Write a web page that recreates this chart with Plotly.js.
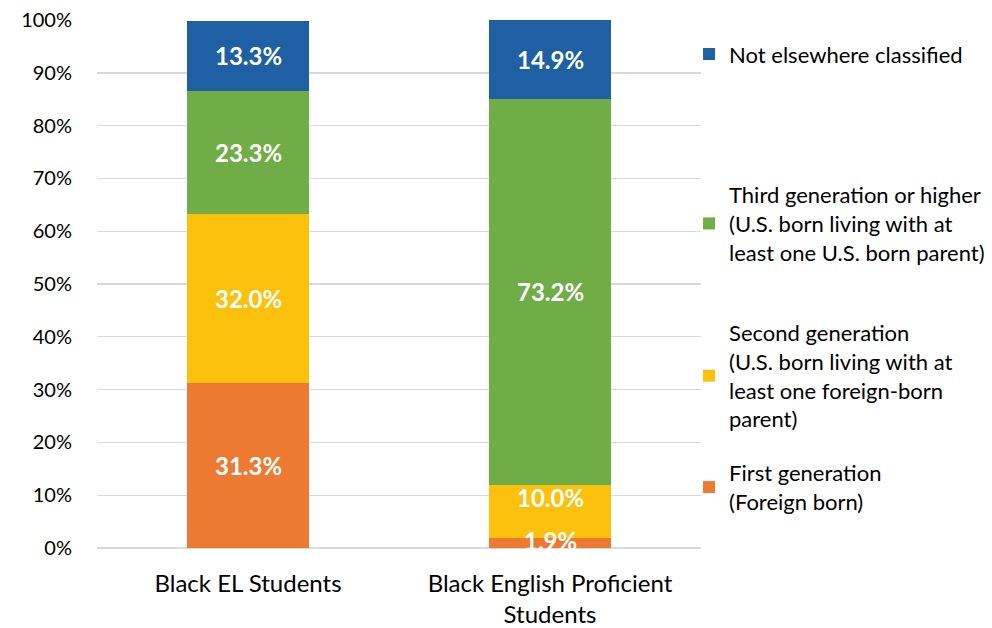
<!DOCTYPE html>
<html>
<head>
<meta charset="utf-8">
<script src="https://cdn.plot.ly/plotly-3.0.1.min.js"></script>
<style>html,body{margin:0;padding:0;background:#fff;}#chart{width:992px;height:628px;}</style>
</head>
<body>
<div id="chart"></div>
<script>
const categories = ["Black EL Students", "Black English Proficient<br>Students"];
const seriesNames = [
  "First generation<br>(Foreign born)",
  "Second generation<br>(U.S. born living with at<br>least one foreign-born<br>parent)",
  "Third generation or higher<br>(U.S. born living with at<br>least one U.S. born parent)",
  "Not elsewhere classified"
];
const firstGen = [31.3, 1.9];
const secondGen = [32.0, 10.0];
const thirdGen = [23.3, 73.2];
const notClassified = [13.3, 14.9];
const yTickVals = [0, 10, 20, 30, 40, 50, 60, 70, 80, 90, 100];
const yTickText = ["0%", "10%", "20%", "30%", "40%", "50%", "60%", "70%", "80%", "90%", "100%"];

const colors = ["#ee7a31", "#fbc10d", "#70ad47", "#1f5fa4"];
const values = [firstGen, secondGen, thirdGen, notClassified];
const legendIds = ["legend4", "legend3", "legend2", "legend"];
const FONT = "Lato, 'Open Sans', sans-serif";

const traces = values.map((v, i) => ({
  type: "bar",
  name: seriesNames[i],
  x: categories,
  y: v,
  marker: {color: colors[i]},
  hoverinfo: "skip",
  legend: legendIds[i]
}));

// Data labels at segment centres (in data units), nudged apart when segments are tiny
const annotations = [];
categories.forEach((cat, ci) => {
  let base = 0;
  let prev = -Infinity;
  values.forEach((v) => {
    const val = v[ci];
    let yc = base + val / 2;
    yc = Math.max(yc, 1.5);
    if (yc - prev < 8.1) yc = prev + 8.1;
    prev = yc;
    annotations.push({
      x: cat, y: yc, xref: "x", yref: "y",
      text: "<b>" + val.toFixed(1) + "%</b>",
      showarrow: false, xanchor: "center", yanchor: "middle",
      font: {family: FONT, size: 24, color: "#ffffff"}
    });
    base += val;
  });
});

const legendBase = {
  xref: "container", yref: "container", xanchor: "left", yanchor: "top",
  font: {family: FONT, size: 22, color: "#000"},
  bgcolor: "rgba(0,0,0,0)", itemwidth: 30, tracegroupgap: 0,
  itemclick: false, itemdoubleclick: false
};

const layout = {
  width: 992, height: 628,
  margin: {l: 97, r: 291, t: 20, b: 80, autoexpand: false},
  paper_bgcolor: "#ffffff", plot_bgcolor: "#ffffff",
  barmode: "stack",
  bargap: 0.596,
  font: {family: FONT, size: 22, color: "#000"},
  annotations: annotations,
  xaxis: {
    type: "category",
    range: [-0.5, 1.5],
    showgrid: false, zeroline: false, showline: false,
    ticks: "", ticklabelstandoff: 19,
    tickfont: {family: FONT, size: 24, color: "#000"}
  },
  yaxis: {
    range: [0, 100.02],
    tickvals: yTickVals, ticktext: yTickText,
    showgrid: true, gridcolor: "#d9d9d9", gridwidth: 1.3,
    zeroline: true, zerolinecolor: "#d9d9d9", zerolinewidth: 1.3,
    showline: false, ticks: "", ticklabelstandoff: 24,
    tickfont: {family: FONT, size: 20, color: "#000"}
  },
  showlegend: true,
  legend: Object.assign({}, legendBase, {x: 0.6946, y: 0.9471}),
  legend2: Object.assign({}, legendBase, {x: 0.6946, y: 0.7229}),
  legend3: Object.assign({}, legendBase, {x: 0.6946, y: 0.5032}),
  legend4: Object.assign({}, legendBase, {x: 0.6946, y: 0.2803})
};

Plotly.newPlot("chart", traces, layout, {displayModeBar: false, staticPlot: true});
</script>
</body>
</html>
